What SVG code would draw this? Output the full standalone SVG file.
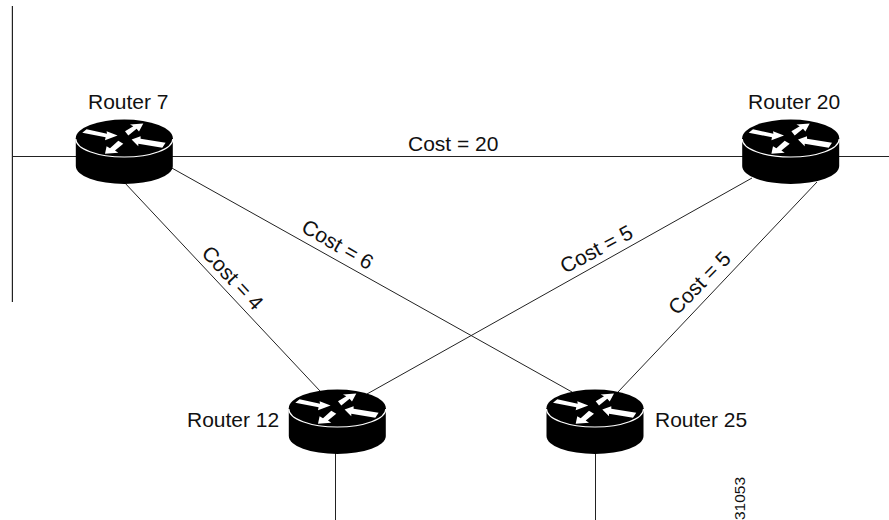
<svg xmlns="http://www.w3.org/2000/svg" width="889" height="520" viewBox="0 0 889 520">
<style>
text{font-family:"Liberation Sans",Arial,sans-serif;font-size:21px;fill:#111}
.c line{stroke:#222;stroke-width:1;fill:none}
.rim{fill:none;stroke:#fff;stroke-width:1.2}
.ar{fill:#fff}
</style>
<defs>
<g id="router">
<path d="M-48.500 0V28A48.500 18 0 0 0 48.500 28V0Z" fill="#000"/>
<ellipse rx="48.500" ry="18.500" fill="#000"/>
<path class="rim" d="M-48.500 1A48.500 18 0 0 0 48.500 1"/>
<polygon class="ar" points="-42,-5.200 -37.700,-8.800 -17.300,-4.200 -17.700,-6.800 -6.700,-2.500 -19.300,2.200 -18.700,-0.800"/>
<polygon class="ar" points="0.700,-6.800 9,-11.800 5.700,-13.500 19,-14.500 14.700,-6.500 12.300,-9.200 4,-2.500"/>
<polygon class="ar" points="7.300,1.500 16.300,-1.800 16.300,0.800 41.300,4.800 38,9.800 14,5.800 14,8.200"/>
<polygon class="ar" points="-19.300,15.800 -17.700,8.200 -14.300,10.200 -6,2.800 -1,5.800 -9.300,12.500 -6,14.800"/>
</g>
</defs>
<g id="connectors" class="c">
<line x1="12.400" y1="6" x2="12.400" y2="302" style="stroke-width:1.2"/>
<line x1="12" y1="156.500" x2="889" y2="156.500"/>
<line x1="124" y1="182" x2="320" y2="391"/>
<line x1="170" y1="167" x2="572" y2="392"/>
<line x1="367" y1="394" x2="752" y2="178"/>
<line x1="618" y1="392" x2="817" y2="182"/>
<line x1="335.500" y1="450" x2="335.500" y2="520"/>
<line x1="595.500" y1="450" x2="595.500" y2="520"/>
</g>
<g id="router7"><use href="#router" x="124.300" y="138"/><text x="88" y="109">Router 7</text></g>
<g id="router20"><use href="#router" x="790.700" y="138"/><text x="748" y="109">Router 20</text></g>
<g id="router12"><use href="#router" x="337.300" y="408"/><text x="187" y="427">Router 12</text></g>
<g id="router25"><use href="#router" x="595" y="408"/><text x="655" y="427">Router 25</text></g>
<g id="labels">
<text x="408" y="151">Cost = 20</text>
<text transform="translate(200.500 254) rotate(47)">Cost = 4</text>
<text transform="translate(300 231) rotate(30)">Cost = 6</text>
<text transform="translate(565 274) rotate(-28)">Cost = 5</text>
<text transform="translate(677 316) rotate(-45.500)">Cost = 5</text>
<text transform="translate(745 520) rotate(-90)" style="font-size:15.500px">31053</text>
</g>
</svg>
